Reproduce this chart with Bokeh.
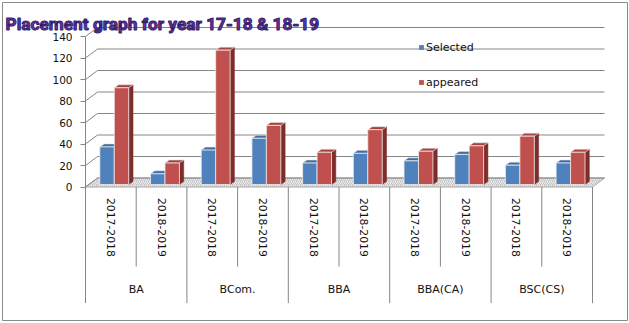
from bokeh.plotting import figure
from bokeh.models import (Range1d, LinearAxis, FixedTicker, ColumnDataSource,
                          Legend, LegendItem, Label)
from bokeh.embed import file_html
from bokeh.resources import INLINE

# ---------------- data ----------------
programs = ["BA", "BCom.", "BBA", "BBA(CA)", "BSC(CS)"]
years = ["2017-2018", "2018-2019"]
selected = [35, 10, 32, 43, 20, 29, 22, 28, 18, 20]
appeared = [90, 20, 125, 55, 30, 51, 31, 36, 45, 30]
y_ticks = [0, 20, 40, 60, 80, 100, 120, 140]
series_names = ["Selected", "appeared"]
title_text = "Placement graph for year 17-18 & 18-19"

# category slots: one per (program, year), in order
slots = [(g, y) for g in programs for y in years]
n = len(slots)
slot_center = [i + 0.5 for i in range(n)]
group_center = [len(years) * (j + 0.5) for j in range(len(programs))]

# ---------------- layout / style constants ----------------
W, H = 629, 323
FL, FR, FT, FB = 2, 627, 2, 320           # frame edges (px) = chart border
AX_L, AX_R = 85.0, 592.0                  # px of first / last category edge
BASE_PX = 184.0                           # pixel row of bar bases
K = 1.075                                 # px per value unit
FRONT_SHIFT = 2.5 / K                     # front of floor is below bar base
WALL_DX, WALL_DY = 0.237, 9.0 / K         # back-wall depth offset
BAR_DX, BAR_DY = 0.085, 3.0 / K           # bar depth offset
BAR_W = 0.285
OFFS = [-0.075, 0.21]
FONT = "DejaVu Sans"
GRID_C = "#868686"
TXT_C = "#111111"

ux = (AX_R - AX_L) / n
x0 = -(AX_L - FL) / ux
x1 = n + (FR - AX_R) / ux
y0 = -(FB - BASE_PX) / K
y1 = (BASE_PX - FT) / K

p = figure(width=W, height=H, x_range=Range1d(x0, x1), y_range=Range1d(y0, y1),
           output_backend="svg", toolbar_location=None,
           x_axis_location=None, y_axis_location=None,
           min_border_left=FL, min_border_right=W - FR,
           min_border_top=FT, min_border_bottom=H - FB)
p.extra_y_ranges = {"front": Range1d(y0 + FRONT_SHIFT, y1 + FRONT_SHIFT)}
p.grid.visible = False
p.outline_line_color = "#8a8a8a"
p.outline_line_width = 1
p.background_fill_color = "white"
p.border_fill_color = "white"

# floor
p.patch([0, n, n + WALL_DX, WALL_DX], [0, 0, WALL_DY, WALL_DY], y_range_name="front",
        fill_color="#c4c4c4", line_color="#a8a8a8", line_width=1,
        hatch_pattern="/", hatch_color="#efefef", hatch_scale=4, hatch_weight=1)

# back wall grid lines
p.segment(x0=[WALL_DX] * len(y_ticks), y0=[t + WALL_DY for t in y_ticks],
          x1=[n + WALL_DX] * len(y_ticks), y1=[t + WALL_DY for t in y_ticks],
          y_range_name="front", line_color=GRID_C, line_width=1)
# left wall diagonal ticks
p.segment(x0=[0] * len(y_ticks), y0=y_ticks, x1=[WALL_DX] * len(y_ticks),
          y1=[t + WALL_DY for t in y_ticks], y_range_name="front", line_color=GRID_C, line_width=1)

# category separators below the axis
sep_x = list(range(n + 1))
sep_len = [-108.0 if i % len(years) == 0 else -74.0 for i in sep_x]
p.segment(x0=sep_x, y0=[0] * len(sep_x), x1=sep_x, y1=sep_len, y_range_name="front",
          line_color=GRID_C, line_width=1)

# bars
styles = [
    dict(front="#4F81BD", top="#3F6DA3", side="#2F5382"),
    dict(front="#C0504D", top="#A8423F", side="#7E2D2B"),
]
legend_items = []
for vals, off, st, name in zip([selected, appeared], OFFS, styles, series_names):
    centers = [c + off for c in slot_center]
    src = ColumnDataSource(dict(x=centers, top=vals))
    xl = [c - BAR_W / 2 for c in centers]
    xr = [c + BAR_W / 2 for c in centers]
    tops_x = [[a, b, b + BAR_DX, a + BAR_DX] for a, b in zip(xl, xr)]
    tops_y = [[v, v, v + BAR_DY, v + BAR_DY] for v in vals]
    side_x = [[b, b + BAR_DX, b + BAR_DX, b] for b in xr]
    side_y = [[0, BAR_DY, v + BAR_DY, v] for v in vals]
    p.patches(side_x, side_y, fill_color=st["side"], line_color=st["side"], line_width=0.5)
    p.patches(tops_x, tops_y, fill_color=st["top"], line_color="#e8e8e8", line_width=0.6)
    r = p.vbar(x="x", top="top", bottom=0, width=BAR_W, source=src,
               fill_color=st["front"], line_color=None)
    p.vbar(x="x", top="top", bottom=0, width=BAR_W, source=src,
           fill_color=None, line_color="#eeeeee", line_width=1, line_alpha=0.8)
    legend_items.append(LegendItem(label=name, renderers=[r]))

# value axis (front edge of the left wall)
yax = LinearAxis(y_range_name="front", fixed_location=0, bounds=(y_ticks[0], y_ticks[-1]),
                 ticker=FixedTicker(ticks=y_ticks),
                 axis_line_color=GRID_C, major_tick_line_color=GRID_C,
                 minor_tick_line_color=None, major_tick_out=5, major_tick_in=0,
                 major_label_standoff=8,
                 major_label_text_font=FONT, major_label_text_font_size="10.5px",
                 major_label_text_color=TXT_C)
p.add_layout(yax, "left")

# year labels
year_ax = LinearAxis(y_range_name="front", fixed_location=0,
                     ticker=FixedTicker(ticks=slot_center, minor_ticks=[]),
                     major_label_overrides={c: s[1] for c, s in zip(slot_center, slots)},
                     axis_line_color=None, major_tick_line_color=None,
                     minor_tick_line_color=None, major_tick_out=0, major_tick_in=0,
                     major_label_standoff=11, major_label_orientation="vertical",
                     major_label_text_font=FONT, major_label_text_font_size="10.8px",
                     major_label_text_color=TXT_C)
p.add_layout(year_ax, "below")

# program labels
GROUP_LOC = -(282.0 - 186.5) / K
prog_ax = LinearAxis(y_range_name="front", fixed_location=GROUP_LOC,
                     ticker=FixedTicker(ticks=group_center, minor_ticks=[]),
                     major_label_overrides={c: g for c, g in zip(group_center, programs)},
                     axis_line_color=None, major_tick_line_color=None,
                     minor_tick_line_color=None, major_tick_out=0, major_tick_in=0,
                     major_label_standoff=0,
                     major_label_text_font=FONT, major_label_text_font_size="11px",
                     major_label_text_color=TXT_C)
p.add_layout(prog_ax, "below")

legend = Legend(items=legend_items, location=(416, 228), padding=0, margin=0,
                border_line_color=None, background_fill_alpha=0,
                glyph_width=6, glyph_height=6, label_height=20, spacing=15,
                label_standoff=2, label_text_font=FONT, label_text_font_size="11px",
                label_text_color=TXT_C)
p.add_layout(legend, "center")

title = Label(x=5, y=23.5, x_units="canvas", y_units="canvas", text=title_text,
              text_baseline="alphabetic",
              text_font="Roboto", text_font_size="17.3px",
              text_font_style="bold", text_color="#7030A0",
              text_outline_color="#2E1F6B")
p.add_layout(title)

open("out.html", "w").write(file_html(p, INLINE))
